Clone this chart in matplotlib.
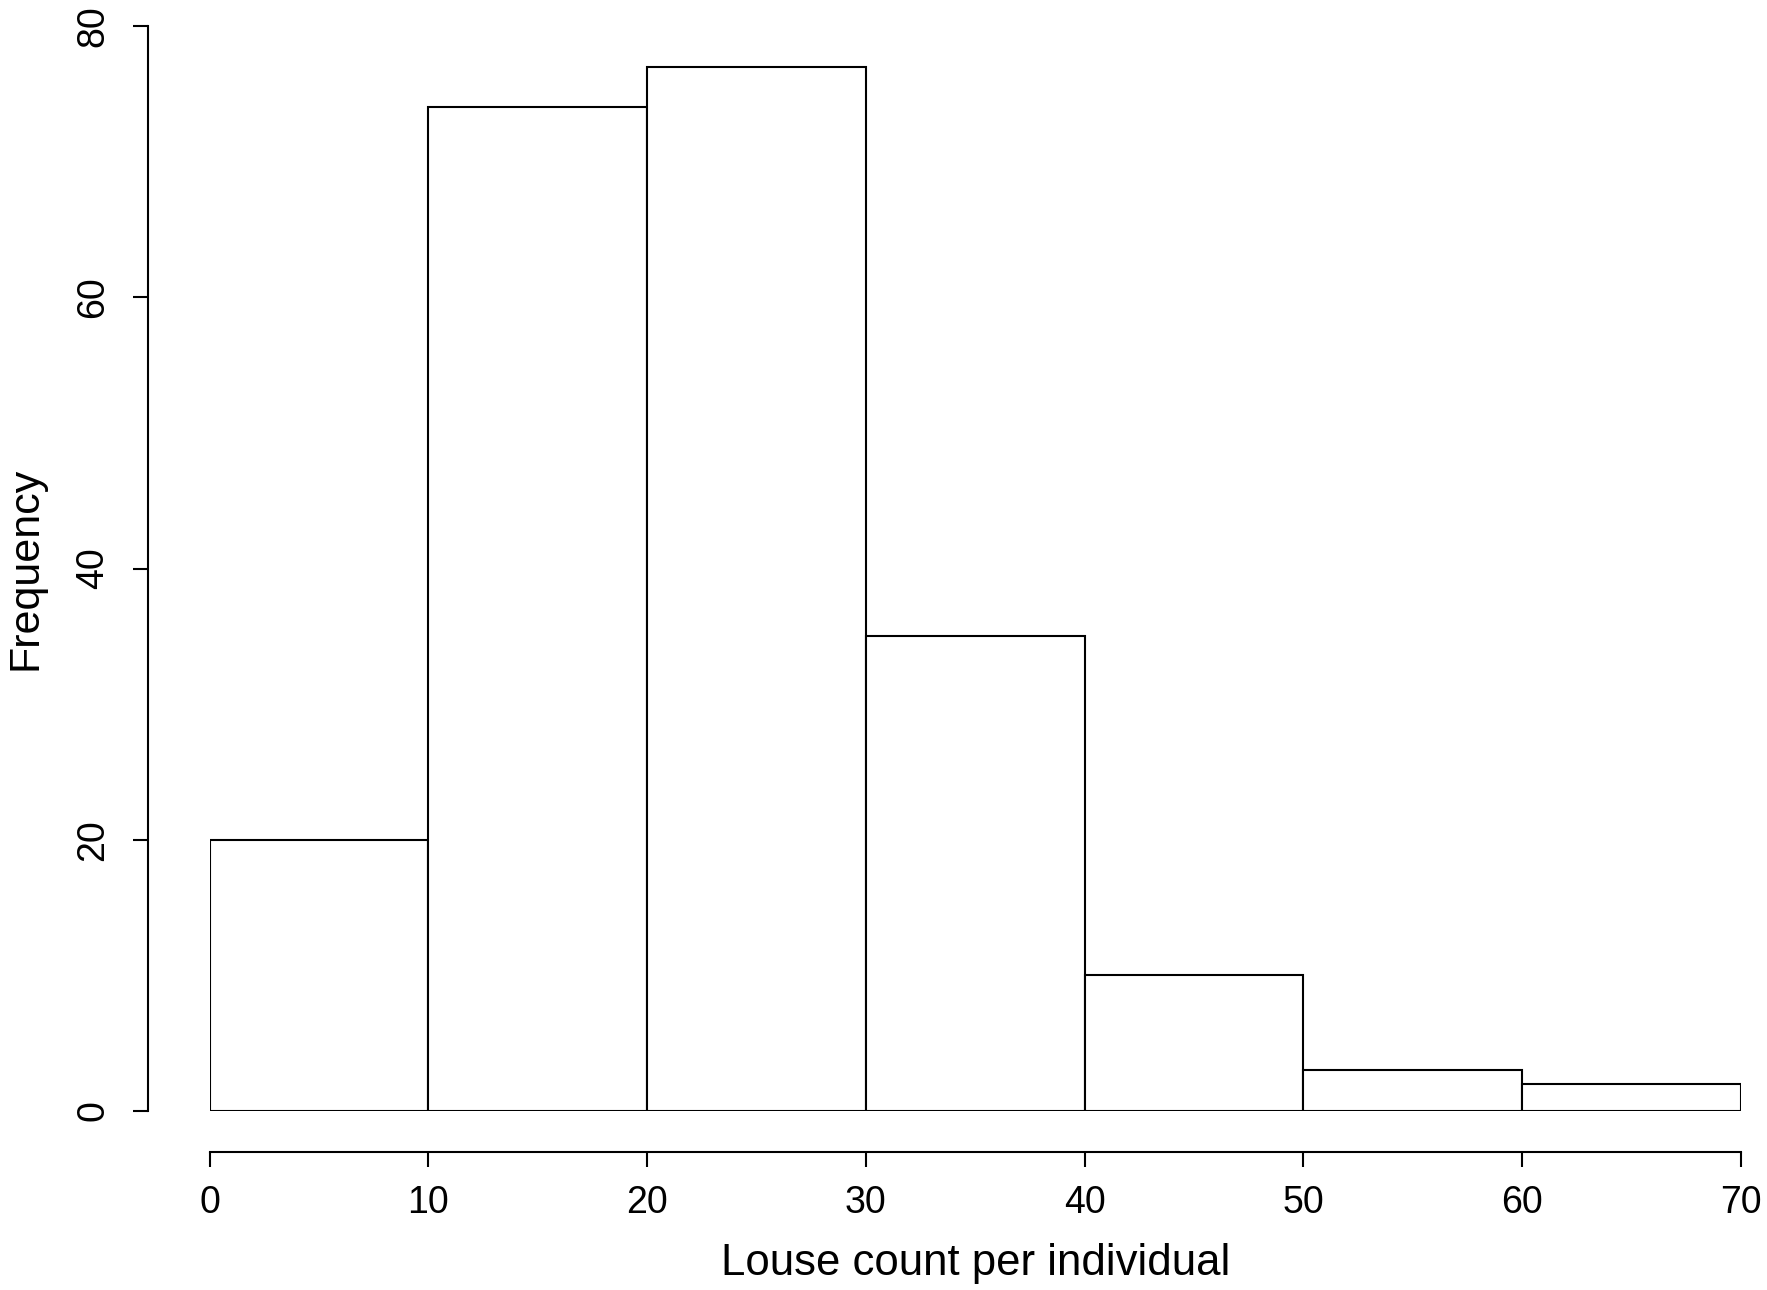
import matplotlib
matplotlib.use('Agg')
import matplotlib.pyplot as plt

# histogram bins and counts
bin_edges = [0, 10, 20, 30, 40, 50, 60, 70]
counts = [20, 74, 77, 35, 10, 3, 2]
x_ticks = [0, 10, 20, 30, 40, 50, 60, 70]
y_ticks = [0, 20, 40, 60, 80]

plt.rcParams['font.family'] = ['Liberation Sans', 'DejaVu Sans']

fig = plt.figure(figsize=(17.67, 12.9), dpi=100)
ax = fig.add_axes([0.1186, 0.1388, 0.8667, 0.841])

lefts = bin_edges[:-1]
widths = [b - a for a, b in zip(bin_edges[:-1], bin_edges[1:])]
ax.bar(lefts, counts, width=widths, align='edge', color='white',
       edgecolor='black', linewidth=1.5)

ax.set_xlim(0, 70)
ax.set_ylim(0, 80)

# R-style detached axes
for s in ['top', 'right']:
    ax.spines[s].set_visible(False)
ax.spines['left'].set_position(('outward', 44.6))
ax.spines['bottom'].set_position(('outward', 29.5))
ax.spines['left'].set_bounds(0, 80)
ax.spines['bottom'].set_bounds(0, 70)
ax.spines['left'].set_linewidth(1.5)
ax.spines['bottom'].set_linewidth(1.5)

ax.set_xticks(x_ticks)
ax.set_yticks(y_ticks)
ax.tick_params(axis='both', length=11, width=1.5, labelsize=27)
ax.tick_params(axis='x', pad=13)
ax.tick_params(axis='y', pad=15)
for lbl in ax.get_yticklabels():
    lbl.set_rotation(90)
    lbl.set_va('center')

ax.set_xlabel('Louse count per individual', fontsize=31.5, va='center')
ax.set_ylabel('Frequency', fontsize=31, va='center')
ax.xaxis.set_label_coords(0.5, -0.141)
ax.yaxis.set_label_coords(-0.1205, 0.5)

plt.savefig('out.png', dpi=100)
